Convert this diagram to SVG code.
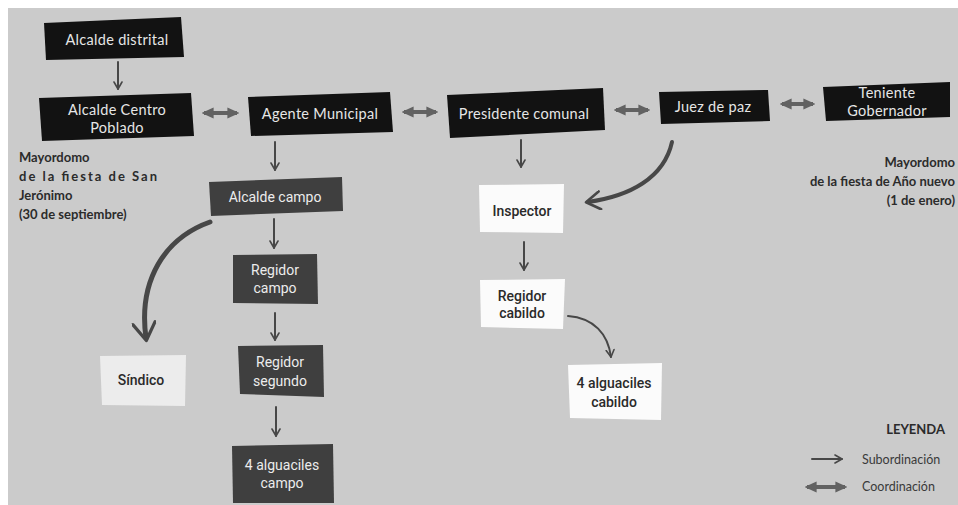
<svg xmlns="http://www.w3.org/2000/svg" width="958" height="505" viewBox="0 0 958 505">
<defs>
<marker id="ah" viewBox="0 0 10 10" refX="8" refY="5" markerWidth="5" markerHeight="5" orient="auto" markerUnits="strokeWidth">
<path d="M1,1 L8,5 L1,9" fill="none" stroke="#474747" stroke-width="1.6" stroke-linecap="round" stroke-linejoin="round"/>
</marker>
<marker id="ahb" viewBox="0 0 10 10" refX="7" refY="5" markerWidth="5" markerHeight="5" orient="auto" markerUnits="strokeWidth">
<path d="M1,0.5 L8,5 L1,9.5" fill="none" stroke="#474747" stroke-width="1.3" stroke-linecap="round" stroke-linejoin="round"/>
</marker>
<marker id="dh" viewBox="0 0 10 10" refX="8" refY="5" markerWidth="3" markerHeight="3" orient="auto-start-reverse" markerUnits="strokeWidth">
<path d="M0,0.5 L10,5 L0,9.5 Z" fill="#626262"/>
</marker>
</defs>
<style>
.blk{fill:#121212}
.dg{fill:#3f3f3f}
.wh{fill:#fbfbfb}
.lt{fill:#ececec}
.tb{font-family:Lato,"Open Sans",sans-serif;font-size:14.5px;letter-spacing:0.3px;fill:#e6e6e6;text-anchor:middle}
.tr{font-family:Roboto,"Liberation Sans",sans-serif;font-size:14px;fill:#ececec;text-anchor:middle}
.tw{font-family:Roboto,"Liberation Sans",sans-serif;font-size:14px;font-weight:500;fill:#2a2a2a;text-anchor:middle}
.note{font-family:Lato,"Open Sans",sans-serif;font-size:13px;font-weight:bold;fill:#2b2b2b}
.leg{font-family:Lato,"Open Sans",sans-serif;font-size:12.5px;fill:#3a3a3a}
.sub{fill:none;stroke:#474747;stroke-width:2;stroke-linecap:round}
.co{fill:none;stroke:#626262;stroke-width:4}
</style>
<rect x="0" y="0" width="958" height="505" fill="#ffffff"/>
<rect x="8" y="8" width="950" height="497" fill="#cbcbcb"/>

<g id="connectors">
<line class="sub" x1="118" y1="62" x2="118" y2="89" marker-end="url(#ah)"/>
<line class="co" x1="204" y1="113" x2="237" y2="113" marker-start="url(#dh)" marker-end="url(#dh)"/>
<line class="co" x1="404" y1="112" x2="436" y2="112" marker-start="url(#dh)" marker-end="url(#dh)"/>
<line class="co" x1="616" y1="110" x2="648" y2="110" marker-start="url(#dh)" marker-end="url(#dh)"/>
<line class="co" x1="782" y1="104" x2="813" y2="104" marker-start="url(#dh)" marker-end="url(#dh)"/>
<line class="sub" x1="275" y1="142" x2="275" y2="170" marker-end="url(#ah)"/>
<line class="sub" x1="274" y1="219" x2="274" y2="248" marker-end="url(#ah)"/>
<line class="sub" x1="275" y1="313" x2="275" y2="340" marker-end="url(#ah)"/>
<line class="sub" x1="276" y1="407" x2="276" y2="436" marker-end="url(#ah)"/>
<path class="sub" d="M210,222 C165,238 138,280 146,338" style="stroke-width:5" marker-end="url(#ahb)"/>
<line class="sub" x1="521" y1="140" x2="521" y2="167" marker-end="url(#ah)"/>
<path class="sub" d="M672,142 C664,178 630,196 588,202" style="stroke-width:4" marker-end="url(#ahb)"/>
<line class="sub" x1="524" y1="242" x2="524" y2="270" marker-end="url(#ah)"/>
<path class="sub" d="M568,316 C594,318 608,334 611,357" marker-end="url(#ah)"/>
</g>

<g id="n-alcalde-distrital"><path class="blk" d="M44,23 L181,17 L184,57 L46,60 Z"/><text class="tb" x="117" y="45">Alcalde distrital</text></g>
<g id="n-alcalde-cp"><path class="blk" d="M39,98 L191,93 L194,136 L42,141 Z"/><text class="tb" x="117" y="115">Alcalde Centro</text><text class="tb" x="117" y="133">Poblado</text></g>
<g id="n-agente"><path class="blk" d="M248,97 L390,92 L393,132 L251,136 Z"/><text class="tb" x="320" y="119">Agente Municipal</text></g>
<g id="n-presidente"><path class="blk" d="M447,95 L603,88 L605,130 L450,138 Z"/><text class="tb" x="524" y="119">Presidente comunal</text></g>
<g id="n-juez"><path class="blk" d="M659,92 L768,90 L770,121 L661,124 Z"/><text class="tb" x="713" y="112">Juez de paz</text></g>
<g id="n-teniente"><path class="blk" d="M823,87 L950,82 L950,117 L826,121 Z"/><text class="tb" x="887" y="98">Teniente</text><text class="tb" x="887" y="116">Gobernador</text></g>

<g id="n-alcalde-campo"><path class="dg" d="M209,182 L342,177 L343,211 L211,216 Z"/><text class="tr" x="275" y="202">Alcalde campo</text></g>
<g id="n-regidor-campo"><path class="dg" d="M233,255 L317,254 L318,304 L233,303 Z"/><text class="tr" x="275" y="275">Regidor</text><text class="tr" x="275" y="293">campo</text></g>
<g id="n-regidor-segundo"><path class="dg" d="M238,346 L323,345 L324,397 L240,394 Z"/><text class="tr" x="280" y="367">Regidor</text><text class="tr" x="280" y="386">segundo</text></g>
<g id="n-alguaciles-campo"><path class="dg" d="M232,446 L333,444 L334,503 L233,503 Z"/><text class="tr" x="282" y="470">4 alguaciles</text><text class="tr" x="282" y="488">campo</text></g>

<g id="n-sindico"><path class="lt" d="M100,356 L186,355 L185,406 L102,405 Z"/><text class="tw" x="141" y="385">Síndico</text></g>
<g id="n-inspector"><path class="wh" d="M479,185 L564,184 L563,233 L480,232 Z"/><text class="tw" x="522" y="216">Inspector</text></g>
<g id="n-regidor-cabildo"><path class="wh" d="M480,280 L565,279 L563,329 L481,327 Z"/><text class="tw" x="522" y="301">Regidor</text><text class="tw" x="522" y="318">cabildo</text></g>
<g id="n-alguaciles-cabildo"><path class="wh" d="M568,365 L662,363 L661,420 L570,418 Z"/><text class="tw" x="614" y="388">4 alguaciles</text><text class="tw" x="614" y="407">cabildo</text></g>

<g id="note-left">
<text class="note" x="19" y="162">Mayordomo</text>
<text class="note" x="19" y="181" textLength="138" lengthAdjust="spacing">de la fiesta de San</text>
<text class="note" x="19" y="200">Jerónimo</text>
<text class="note" x="19" y="219">(30 de septiembre)</text>
</g>
<g id="note-right">
<text class="note" x="955" y="167" text-anchor="end">Mayordomo</text>
<text class="note" x="955" y="186" text-anchor="end">de la fiesta de Año nuevo</text>
<text class="note" x="955" y="205" text-anchor="end">(1 de enero)</text>
</g>

<g id="legend">
<text class="note" x="945" y="434" text-anchor="end">LEYENDA</text>
<line class="sub" x1="812" y1="459" x2="842" y2="459" marker-end="url(#ah)"/>
<text class="leg" x="862" y="464">Subordinación</text>
<line class="co" x1="807" y1="487" x2="845" y2="487" marker-start="url(#dh)" marker-end="url(#dh)"/>
<text class="leg" x="862" y="491">Coordinación</text>
</g>
</svg>
